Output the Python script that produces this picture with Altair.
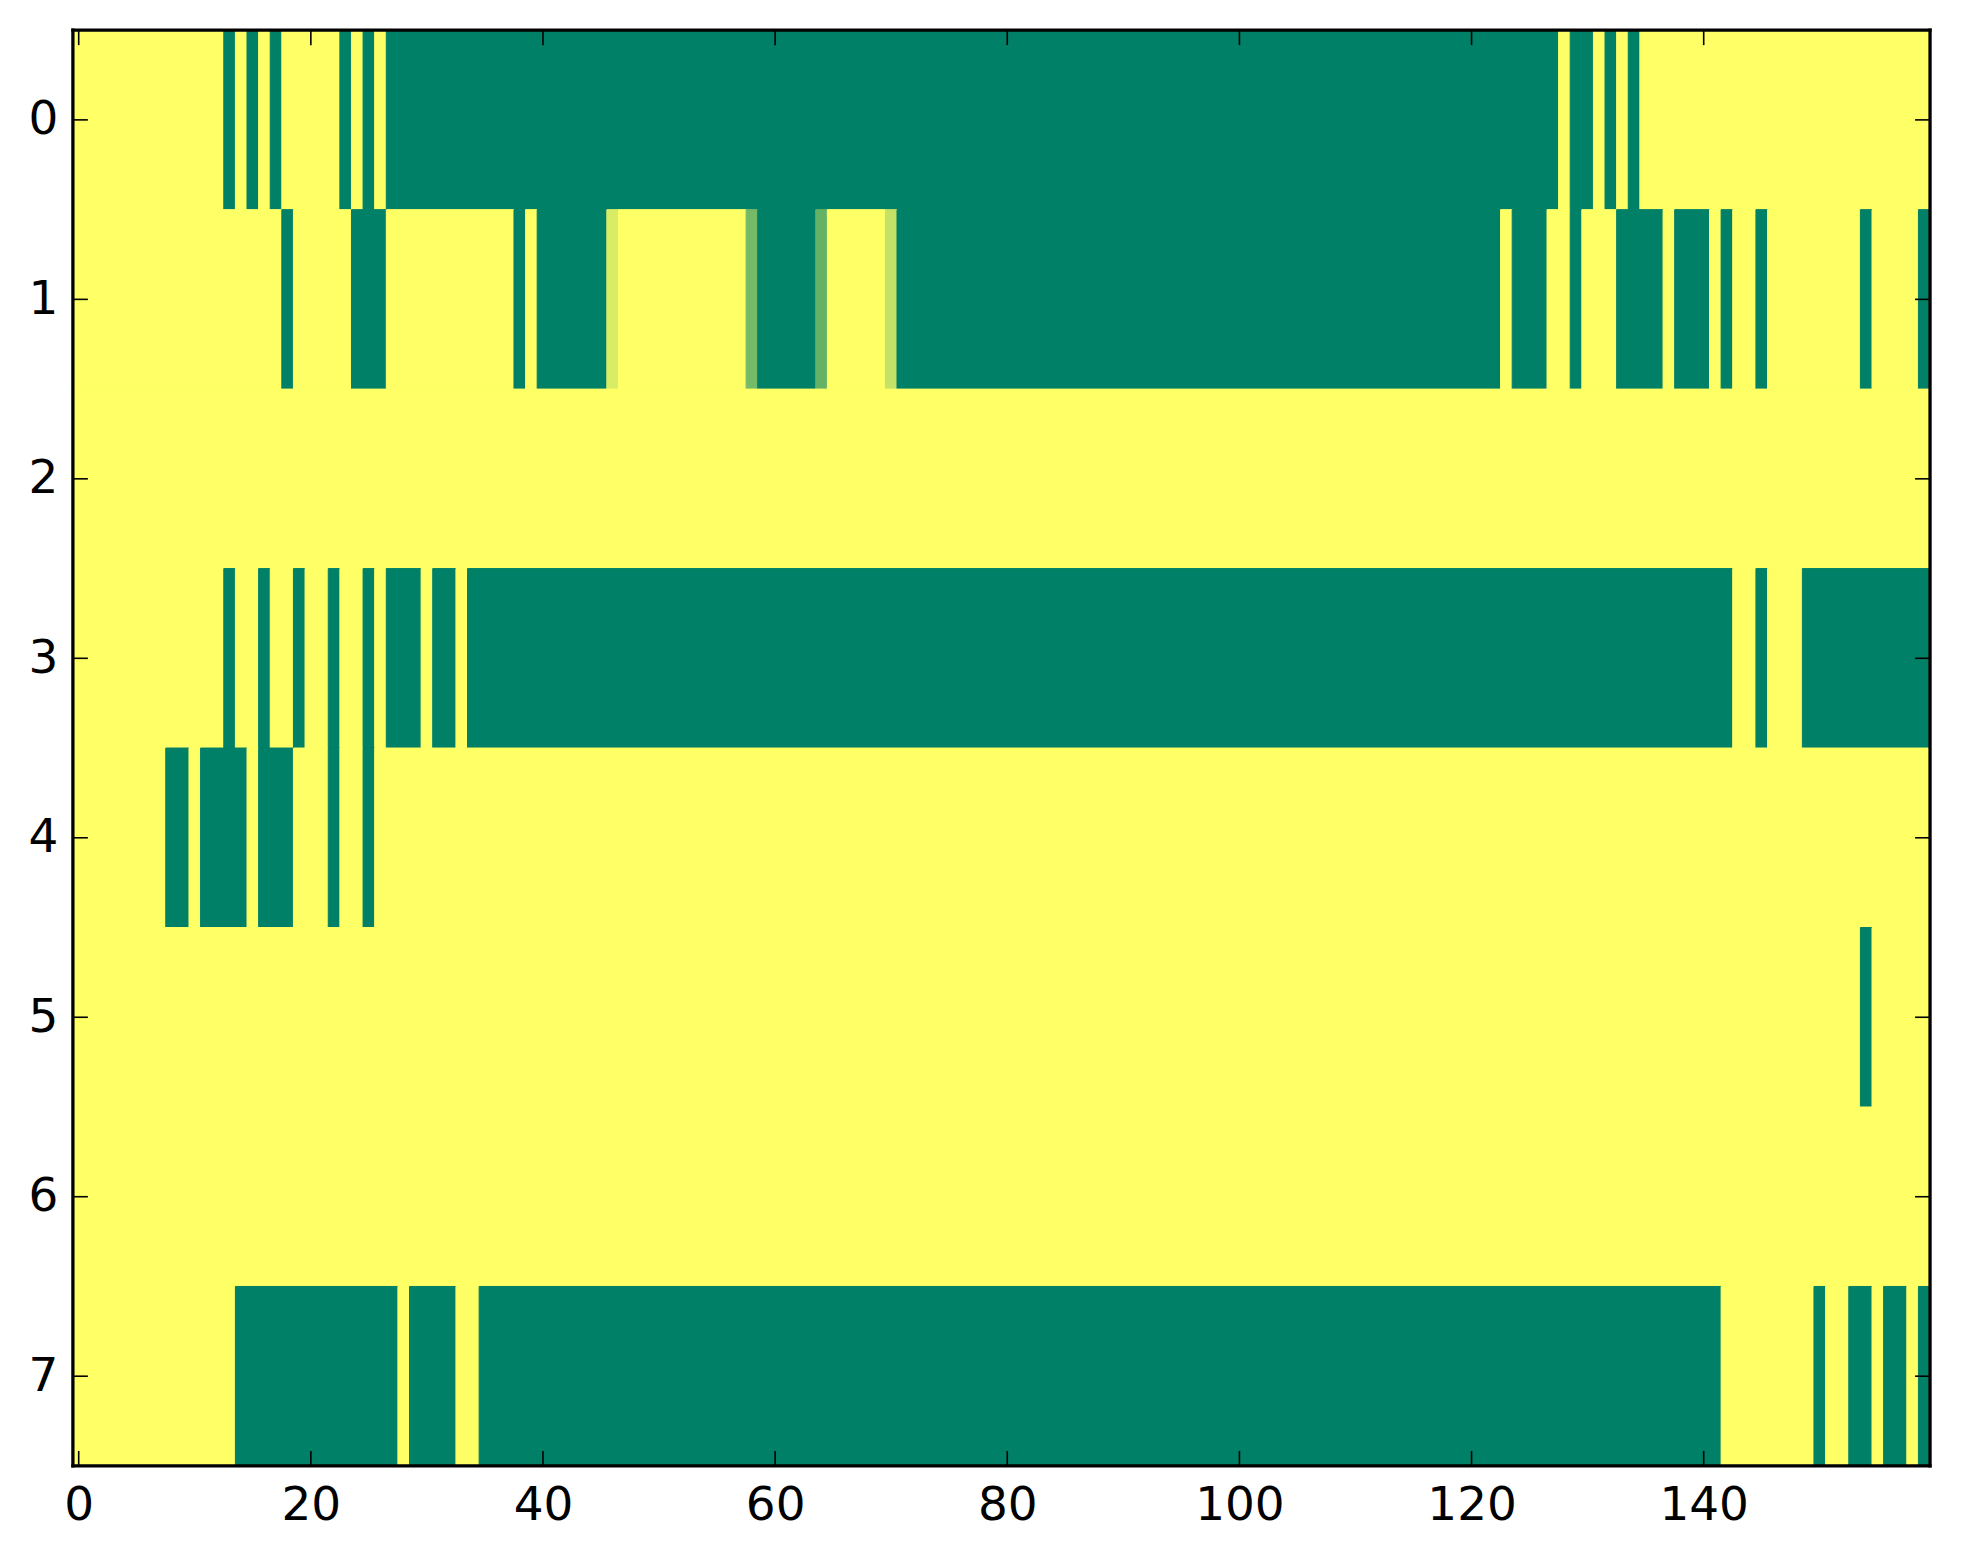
import altair as alt
import pandas as pd

N_COLS = 160
N_ROWS = 8

# Green (value 0) runs per row, inclusive column ranges
row0_green = [(13, 13), (15, 15), (17, 17), (23, 23), (25, 25), (27, 127),
              (129, 130), (132, 132), (134, 134)]
row1_green = [(18, 18), (24, 26), (38, 38), (40, 45), (59, 63), (71, 122),
              (124, 126), (129, 129), (133, 136), (138, 140), (142, 142),
              (145, 145), (154, 154), (159, 159)]
row2_green = []
row3_green = [(13, 13), (16, 16), (19, 19), (22, 22), (25, 25), (27, 29),
              (31, 32), (34, 142), (145, 145), (149, 159)]
row4_green = [(8, 9), (11, 14), (16, 18), (22, 22), (25, 25)]
row5_green = [(154, 154)]
row6_green = []
row7_green = [(14, 27), (29, 32), (35, 141), (150, 150), (153, 154),
              (156, 157), (159, 159)]

# Cells with intermediate values: (row, column, value)
partial_cells = [(1, 46, 0.85), (1, 58, 0.46), (1, 64, 0.39), (1, 70, 0.77)]

x_ticks = [0, 20, 40, 60, 80, 100, 120, 140]
y_ticks = [0, 1, 2, 3, 4, 5, 6, 7]

all_rows = [row0_green, row1_green, row2_green, row3_green,
            row4_green, row5_green, row6_green, row7_green]

# Build grid (1 = yellow by default)
grid = [[1.0] * N_COLS for _ in range(N_ROWS)]
for r, runs in enumerate(all_rows):
    for a, b in runs:
        for c in range(a, b + 1):
            grid[r][c] = 0.0
for r, c, v in partial_cells:
    grid[r][c] = v

# Compress each row into runs of equal value
recs = []
for r in range(N_ROWS):
    start = 0
    for c in range(1, N_COLS + 1):
        if c == N_COLS or grid[r][c] != grid[r][start]:
            recs.append({"x0": start - 0.5, "x1": c - 0.5,
                         "y0": r - 0.5, "y1": r + 0.5, "v": grid[r][start]})
            start = c
df = pd.DataFrame(recs)

W, H = 1860, 1438
TL = 15

xs = alt.Scale(domain=[-0.5, N_COLS - 0.5], nice=False, zero=False)
ys = alt.Scale(domain=[-0.5, N_ROWS - 0.5], nice=False, zero=False, reverse=True)
cs = alt.Scale(domain=[0, 1], range=["#008066", "#ffff66"], interpolate="rgb")

xaxis = alt.Axis(values=x_ticks, ticks=False, tickSize=0, domain=False,
                 grid=False, labelPadding=17, labelFont="DejaVu Sans",
                 labelFontSize=47, labelColor="black", format="d", title=None)
yaxis = alt.Axis(values=y_ticks, ticks=False, tickSize=0, domain=False,
                 grid=False, labelPadding=15, labelFont="DejaVu Sans",
                 labelFontSize=47, labelColor="black", format="d", title=None)

rects = alt.Chart(df).mark_rect(strokeWidth=1).encode(
    x=alt.X("x0:Q", scale=xs, axis=xaxis, title=None),
    x2="x1:Q",
    y=alt.Y("y0:Q", scale=ys, axis=yaxis, title=None),
    y2="y1:Q",
    color=alt.Color("v:Q", scale=cs, legend=None),
    stroke=alt.Stroke("v:Q", scale=cs, legend=None),
)

xt = pd.DataFrame({"t": x_ticks})
yt = pd.DataFrame({"r": y_ticks})

tick_style = dict(color="black", strokeWidth=1.6)
bottom_ticks = alt.Chart(xt).mark_rule(**tick_style).encode(
    x=alt.X("t:Q", scale=xs, axis=xaxis, title=None),
    y=alt.value(H), y2=alt.value(H - TL))
top_ticks = alt.Chart(xt).mark_rule(**tick_style).encode(
    x=alt.X("t:Q", scale=xs, axis=xaxis, title=None),
    y=alt.value(0), y2=alt.value(TL))
left_ticks = alt.Chart(yt).mark_rule(**tick_style).encode(
    y=alt.Y("r:Q", scale=ys, axis=yaxis, title=None),
    x=alt.value(0), x2=alt.value(TL))
right_ticks = alt.Chart(yt).mark_rule(**tick_style).encode(
    y=alt.Y("r:Q", scale=ys, axis=yaxis, title=None),
    x=alt.value(W), x2=alt.value(W - TL))

spine = dict(color="black", strokeWidth=3.3)
sp_df = pd.DataFrame({"d": [0]})
spine_top = alt.Chart(sp_df).mark_rule(**spine).encode(
    x=alt.value(-1.6), x2=alt.value(W + 1.6), y=alt.value(0))
spine_bottom = alt.Chart(sp_df).mark_rule(**spine).encode(
    x=alt.value(-1.6), x2=alt.value(W + 1.6), y=alt.value(H))
spine_left = alt.Chart(sp_df).mark_rule(**spine).encode(
    y=alt.value(-1.6), y2=alt.value(H + 1.6), x=alt.value(0))
spine_right = alt.Chart(sp_df).mark_rule(**spine).encode(
    y=alt.value(-1.6), y2=alt.value(H + 1.6), x=alt.value(W))

chart = alt.layer(
    rects, bottom_ticks, top_ticks, left_ticks, right_ticks,
    spine_top, spine_bottom, spine_left, spine_right
).properties(
    width=W, height=H,
    autosize=alt.AutoSizeParams(type="none"),
    padding={"left": 65, "top": 21, "right": 25, "bottom": 80},
    background="white",
).configure_view(stroke=None)

chart.save("out.html", embed_options={"renderer": "svg", "actions": False})
